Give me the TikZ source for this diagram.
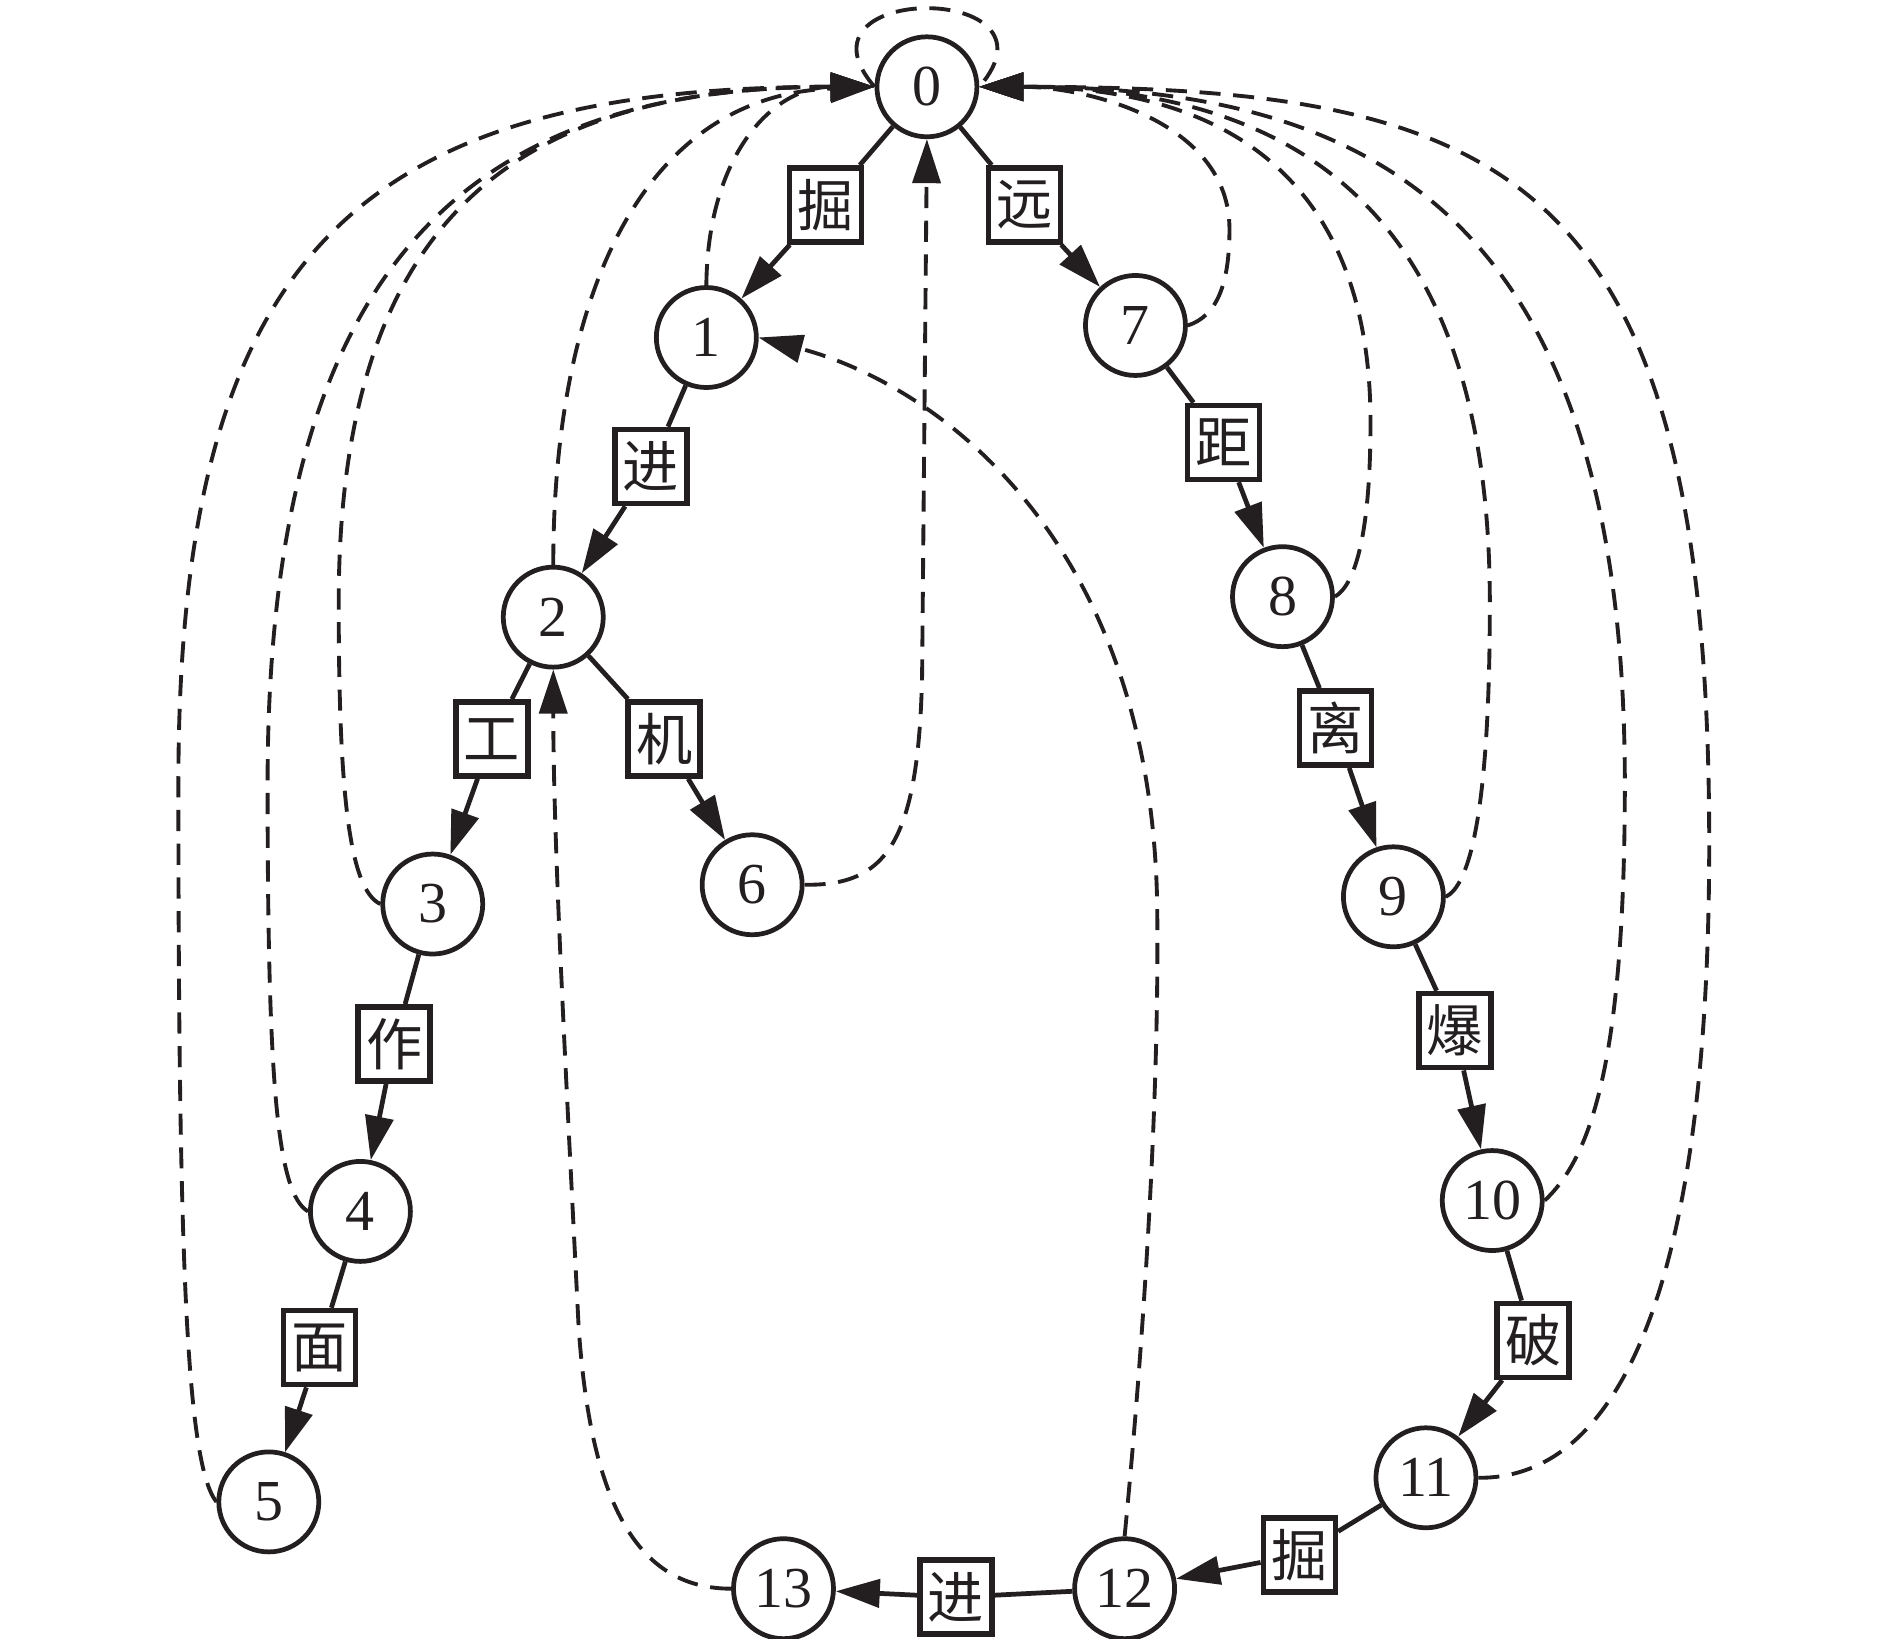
\documentclass[tikz,border=0pt]{standalone}
\usepackage{fontspec}
\setmainfont{Liberation Serif}
\newfontfamily\cjk{Noto Sans CJK SC}
\usetikzlibrary{arrows.meta}
\definecolor{ink}{RGB}{35,31,32}
\begin{document}
\begin{tikzpicture}[x=0.012054cm, y=-0.012054cm,
    stnode/.style={circle, draw=ink, line width=1.35pt, minimum size=1cm, inner sep=0pt, text=ink, font=\fontsize{16.5}{16.5}\selectfont},
    chbox/.style={rectangle, draw=ink, fill=white, line width=1.6pt, minimum width=0.72cm, minimum height=0.74cm, inner sep=0pt, text=ink, font=\fontsize{16}{16}\selectfont\cjk},
    goedge/.style={draw=ink, line width=1.35pt},
    gotip/.style={goedge, -{Triangle[length=4.4mm, width=2.8mm]}},
    failedge/.style={draw=ink, line width=1.1pt, dash pattern=on 6pt off 3.6pt, -{Triangle[length=4.4mm, width=2.8mm]}}]
    \useasboundingbox (0, 0) rectangle (1568, 1359);

    \node[stnode] (n0) at (769, 72) {0};
    \node[stnode] (n1) at (586, 280) {1};
    \node[stnode] (n2) at (459, 512) {2};
    \node[stnode] (n3) at (359, 750) {3};
    \node[stnode] (n4) at (299, 1005) {4};
    \node[stnode] (n5) at (223, 1246) {5};
    \node[stnode] (n6) at (624, 734) {6};
    \node[stnode] (n7) at (942, 270) {7};
    \node[stnode] (n8) at (1064, 495) {8};
    \node[stnode] (n9) at (1156, 744) {9};
    \node[stnode] (n10) at (1238, 996) {10};
    \node[stnode] (n11) at (1183, 1226) {11};
    \node[stnode] (n12) at (933, 1318) {12};
    \node[stnode] (n13) at (650, 1318) {13};

    \node[chbox] (c1) at (685, 170) {掘};
    \node[chbox] (c7) at (850, 170) {远};
    \node[chbox] (c2) at (540, 387) {进};
    \node[chbox] (c3) at (408, 613) {工};
    \node[chbox] (c6) at (551, 613) {机};
    \node[chbox] (c4) at (327, 866) {作};
    \node[chbox] (c5) at (265, 1118) {面};
    \node[chbox] (c8) at (1015, 367) {距};
    \node[chbox] (c9) at (1108, 604) {离};
    \node[chbox] (c10) at (1207, 855) {爆};
    \node[chbox] (c11) at (1272, 1112) {破};
    \node[chbox] (c12) at (1078, 1290) {掘};
    \node[chbox] (c13) at (793, 1325) {进};

    \foreach \a/\b in {0/1, 0/7, 1/2, 2/3, 2/6, 3/4, 4/5, 7/8, 8/9, 9/10, 10/11, 11/12, 12/13} {
        \draw[goedge] (n\a) -- (c\b);
        \draw[gotip] (c\b) -- (n\b);
    }

    \draw[failedge, -] (n0.west) .. controls (650, -15) and (888, -15) .. (n0.east);
    \draw[failedge] (n1.north) .. controls (587, 130) and (640, 72) .. (n0.west);
    \draw[failedge] (n2.north) .. controls (459, 250) and (530, 80) .. (n0.west);
    \draw[failedge] (n3.west) .. controls (290, 738) and (281, 660) .. (281, 500) .. controls (281, 180) and (430, 72) .. (n0.west);
    \draw[failedge] (n4.west) .. controls (230, 990) and (222, 900) .. (222, 650) .. controls (222, 230) and (380, 72) .. (n0.west);
    \draw[failedge] (n5.west) .. controls (155, 1215) and (148, 1050) .. (148, 650) .. controls (148, 216) and (293, 72) .. (n0.west);
    \draw[failedge] (n6.east) .. controls (735, 735) and (762, 700) .. (765, 560) -- (n0.south);
    \draw[failedge] (n7.east) .. controls (1010, 262) and (1020, 235) .. (1020, 190) .. controls (1020, 100) and (900, 72) .. (n0.east);
    \draw[failedge] (n8.east) .. controls (1125, 485) and (1137, 440) .. (1137, 350) .. controls (1137, 180) and (1050, 72) .. (n0.east);
    \draw[failedge] (n9.east) .. controls (1218, 735) and (1236, 680) .. (1236, 500) .. controls (1236, 200) and (1100, 72) .. (n0.east);
    \draw[failedge] (n10.east) .. controls (1320, 960) and (1348, 880) .. (1348, 650) .. controls (1348, 170) and (1130, 72) .. (n0.east);
    \draw[failedge] (n11.east) .. controls (1330, 1227) and (1418, 1100) .. (1418, 700) .. controls (1418, 140) and (1250, 72) .. (n0.east);
    \draw[failedge] (n12.north) .. controls (950, 1100) and (962, 900) .. (960, 750) .. controls (955, 450) and (780, 320) .. (n1.east);
    \draw[failedge] (n13.west) .. controls (530, 1318) and (490, 1250) .. (480, 1100) .. controls (470, 900) and (459, 700) .. (n2.south);
\end{tikzpicture}
\end{document}
